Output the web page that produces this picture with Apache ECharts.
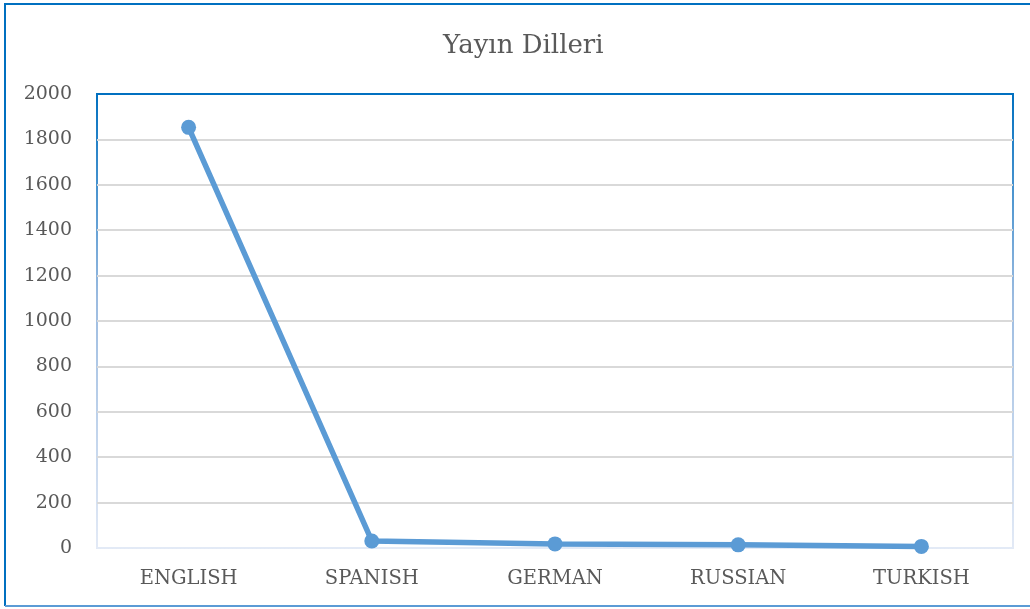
<!DOCTYPE html>
<html>
<head>
<meta charset="utf-8">
<script src="https://cdn.jsdelivr.net/npm/echarts@6/dist/echarts.min.js"></script>
<style>
html,body{margin:0;padding:0;background:#fff;}
#c{width:1030px;height:609px;}
</style>
</head>
<body>
<div id="c"></div>
<script>
const title = 'Yayın Dilleri';
const categories = ['ENGLISH', 'SPANISH', 'GERMAN', 'RUSSIAN', 'TURKISH'];
const values = [1853, 31, 18, 14, 7];
const yMin = 0, yMax = 2000, yStep = 200;

const chart = echarts.init(document.getElementById('c'), null, {renderer: 'canvas'});
const font = 'DejaVu Serif';
chart.setOption({
  animation: false,
  backgroundColor: '#fff',
  title: {
    text: title, left: 438, top: 28,
    textStyle: {fontFamily: font, fontSize: 26, fontWeight: 'normal', color: '#595959'}
  },
  grid: {
    left: 97, right: 17, top: 94, bottom: 61, show: true,
    borderWidth: 2,
    borderColor: {type: 'linear', x: 0, y: 0, x2: 0, y2: 1,
      colorStops: [{offset: 0, color: '#0070c0'}, {offset: 0.45, color: '#9bbbe0'}, {offset: 1, color: '#e3eaf6'}]}
  },
  xAxis: {
    type: 'category', data: categories, boundaryGap: true,
    axisLine: {show: false}, axisTick: {show: false},
    axisLabel: {fontFamily: font, fontSize: 19.5, color: '#595959', margin: 21}
  },
  yAxis: {
    type: 'value', min: yMin, max: yMax, interval: yStep,
    axisLine: {show: false}, axisTick: {show: false},
    axisLabel: {fontFamily: font, fontSize: 19, color: '#595959', margin: 25,
      formatter: function (v) { return String(v); }},
    splitLine: {showMinLine: false, showMaxLine: false, lineStyle: {color: '#d9d9d9', width: 2}}
  },
  series: [{
    type: 'line', data: values,
    lineStyle: {color: '#5b9bd5', width: 5.5},
    itemStyle: {color: '#5b9bd5'},
    symbol: 'circle', symbolSize: 15
  }],
  graphic: [
    {type: 'line', shape: {x1: 5, y1: 4, x2: 1030, y2: 4}, style: {stroke: '#0070c0', lineWidth: 2}},
    {type: 'line', shape: {x1: 5, y1: 3, x2: 5, y2: 606}, style: {stroke: '#0070c0', lineWidth: 2}},
    {type: 'line', shape: {x1: 5, y1: 606, x2: 1030, y2: 606}, style: {stroke: '#5b9bd5', lineWidth: 2}}
  ]
});
</script>
</body>
</html>
